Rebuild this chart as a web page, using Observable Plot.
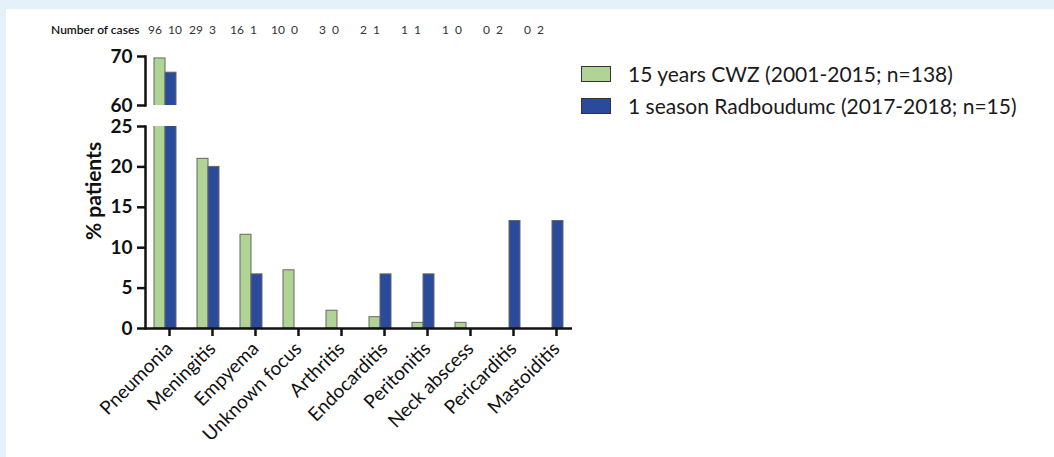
<!DOCTYPE html>
<html>
<head>
<meta charset="utf-8">
<script src="https://cdn.jsdelivr.net/npm/d3@7"></script>
<script src="https://cdn.jsdelivr.net/npm/@observablehq/plot@0.6"></script>
<style>
  html, body { margin: 0; padding: 0; }
  body { width: 1054px; height: 457px; background: #e5f1f9; position: relative; overflow: hidden; font-family: Lato, "Open Sans", sans-serif; }
  #panel { position: absolute; left: 6px; top: 9px; right: 0; bottom: 0; background: #fff; }
  .abs { position: absolute; left: 0; top: 0; }
  .legend { position: absolute; left: 581px; font-size: 21px; color: #1a1a1a; display: flex; align-items: center; white-space: nowrap; }
  .legend .sw { width: 28px; height: 14px; border: 1.5px solid #333; margin-right: 17px; }
  #ylabel { position: absolute; left: 92px; top: 191px; transform: translate(-50%, -50%) rotate(-90deg); font-size: 21px; font-weight: bold; color: #111; white-space: nowrap; }
</style>
</head>
<body>
<div id="panel"></div>
<div id="header" class="abs"></div>
<div id="topchart" class="abs"></div>
<div id="bottomchart" class="abs" style="top:112px"></div>
<div id="legend"></div>
<div id="ylabel"></div>
<script>
const categories = ["Pneumonia", "Meningitis", "Empyema", "Unknown focus", "Arthritis", "Endocarditis", "Peritonitis", "Neck abscess", "Pericarditis", "Mastoiditis"];
const cwzPct = [69.6, 21.0, 11.6, 7.2, 2.2, 1.4, 0.7, 0.7, 0, 0];
const radboudPct = [66.7, 20.0, 6.7, 0, 0, 6.7, 6.7, 0, 13.3, 13.3];
const cwzCases = [96, 29, 16, 10, 3, 2, 1, 1, 0, 0];
const radboudCases = [10, 3, 1, 0, 0, 1, 1, 0, 2, 2];
const seriesNames = ["15 years CWZ (2001-2015; n=138)", "1 season Radboudumc (2017-2018; n=15)"];
const seriesColors = ["#afd495", "#2a4b9b"];
const yTicksHigh = [60, 70];
const yTicksLow = [0, 5, 10, 15, 20, 25];
const casesLabel = "Number of cases";
const yLabel = "% patients";

const rows = categories.map((c, i) => ({category: c, cwz: cwzPct[i], rad: radboudPct[i], nCwz: String(cwzCases[i]), nRad: String(radboudCases[i])}));

const xScale = {type: "band", domain: categories, paddingInner: 0.49, paddingOuter: 0.195};
const common = {
  width: 600, marginLeft: 145, marginRight: 28,
  style: {fontFamily: "Lato, sans-serif", color: "#111", background: "transparent", overflow: "visible"}
};
const barStyle = {stroke: "#666", strokeWidth: 1, clip: true};
const yAxisStyle = {tickSize: 8, tickPadding: 5, fontSize: 19, fontWeight: "bold", strokeWidth: 2.5, label: null};

// "Number of cases" row: its own slightly narrower band layout, as in the source figure
const headerPlot = Plot.plot({
  ...common,
  marginLeft: 142, marginRight: 45,
  height: 40, marginTop: 25, marginBottom: 15,
  x: {...xScale, axis: null},
  y: {axis: null},
  marks: [
    Plot.text(rows, {x: "category", text: "nCwz", frameAnchor: "top", textAnchor: "end", dx: -3, fontSize: 12, fill: "#333"}),
    Plot.text(rows, {x: "category", text: "nRad", frameAnchor: "top", textAnchor: "start", dx: 3, fontSize: 12, fill: "#333"}),
    Plot.text([casesLabel], {frameAnchor: "top-left", textAnchor: "end", dx: -3, fontSize: 12, fontWeight: 600})
  ]
});
document.getElementById("header").appendChild(headerPlot);

const topPlot = Plot.plot({
  ...common,
  height: 112, marginTop: 56, marginBottom: 7,
  x: {...xScale, axis: null},
  y: {domain: [60, 70], axis: null},
  marks: [
    Plot.barY(rows, {x: "category", y: "cwz", fill: seriesColors[0], insetRight: 11, ...barStyle}),
    Plot.barY(rows, {x: "category", y: "rad", fill: seriesColors[1], insetLeft: 11, ...barStyle}),
    Plot.axisY({ticks: yTicksHigh, ...yAxisStyle}),
    Plot.frame({anchor: "left", strokeWidth: 2.5})
  ]
});
document.getElementById("topchart").appendChild(topPlot);

const bottomPlot = Plot.plot({
  ...common,
  height: 345, marginTop: 14, marginBottom: 129,
  x: {...xScale},
  y: {domain: [0, 25]},
  marks: [
    Plot.barY(rows, {x: "category", y: "cwz", fill: seriesColors[0], insetRight: 11, ...barStyle}),
    Plot.barY(rows, {x: "category", y: "rad", fill: seriesColors[1], insetLeft: 11, ...barStyle}),
    Plot.axisY({ticks: yTicksLow, ...yAxisStyle}),
    Plot.axisX({tickSize: 8, tickRotate: -45, tickPadding: 9, dx: 4, fontSize: 19, strokeWidth: 2.5, label: null}),
    Plot.frame({anchor: "left", strokeWidth: 2.5}),
    Plot.ruleY([0], {strokeWidth: 2.5})
  ]
});
document.getElementById("bottomchart").appendChild(bottomPlot);

document.getElementById("ylabel").textContent = yLabel;

const legend = document.getElementById("legend");
seriesNames.forEach((name, i) => {
  const item = document.createElement("div");
  item.className = "legend";
  item.style.top = (i === 0 ? 61 : 93) + "px";
  const sw = document.createElement("div");
  sw.className = "sw";
  sw.style.background = seriesColors[i];
  const t = document.createElement("span");
  t.textContent = name;
  item.appendChild(sw);
  item.appendChild(t);
  legend.appendChild(item);
});
</script>
</body>
</html>
